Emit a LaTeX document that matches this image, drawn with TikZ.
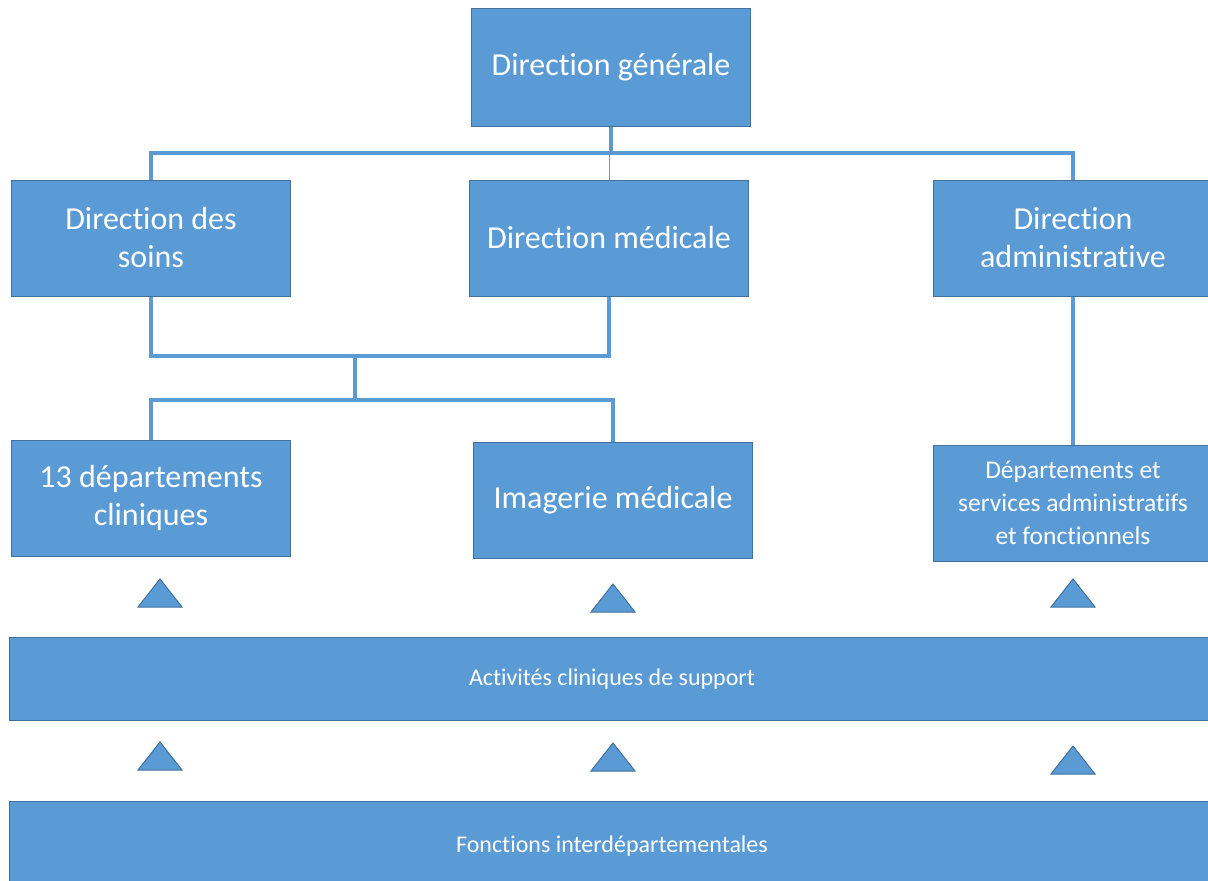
\documentclass[tikz,border=0pt]{standalone}
\usepackage{fontspec}
\setmainfont{Carlito}[Ligatures=NoCommon]
\usepackage{tikz,xcolor}
\definecolor{boxblue}{HTML}{5B9BD5}
\definecolor{boxedge}{HTML}{41719C}

\begin{document}
\begin{tikzpicture}[x=1pt,y=-1pt,
  box/.style={draw=boxedge,fill=boxblue,line width=1pt,text=white,align=center,inner sep=0pt,
    minimum width=279pt,minimum height=116pt},
  big/.style={font=\fontsize{32}{38}\selectfont},
  small/.style={font=\fontsize{24}{28}\selectfont},
  link/.style={draw=boxblue,line width=4pt},
  tri/.style={draw=boxedge,fill=boxblue,line width=1pt}]
\useasboundingbox (0,0) rectangle (1208,881);
\clip (0,0) rectangle (1208,881);

\node [box,big,minimum height=118pt] (generale) at (611,67) {Direction générale};
\node [box,big] (soins) at (151,238) {Direction des\\soins};
\node [box,big] (medicale) at (609,238) {Direction médicale};
\node [box,big] (admin) at (1073,238) {Direction\\administrative};
\node [box,big] (cliniques) at (151,498) {13 départements\\cliniques};
\node [box,big] (imagerie) at (613,500) {Imagerie médicale};
\node [box,font=\fontsize{25.5}{33}\selectfont] (services) at (1073,503) {Départements et\\services administratifs\\et fonctionnels};
\node [box,small,minimum width=1205pt,minimum height=83pt] (support) at (612,679) {Activités cliniques de support};
\node [box,small,minimum width=1205pt,minimum height=90pt] (fonctions) at (612,846) {Fonctions interdépartementales};

% liaisons de la direction
\coordinate (haut) at (611,153);
\draw [link] (generale.south) -- (haut);
\draw [link] (soins.north) |- (haut) -| (admin.north);
\draw [draw=boxblue,line width=1pt] (medicale.north |- haut) -- (medicale.north);
\coordinate (jonction) at (355,356);
\coordinate (partage) at (355,400);
\draw [link] (soins.south) |- (jonction) -| (medicale.south);
\draw [link] (jonction) -- (partage);
\draw [link] (cliniques.north) |- (partage) -| (imagerie.north);
\draw [link] (admin.south) -- (services.north);

% triangles
\foreach \x/\y in {160/607, 613/612, 1073/607, 160/770, 613/771, 1073/774}
  \draw [tri] (\x-22,\y) -- (\x+22,\y) -- (\x,\y-28) -- cycle;
\end{tikzpicture}
\end{document}
